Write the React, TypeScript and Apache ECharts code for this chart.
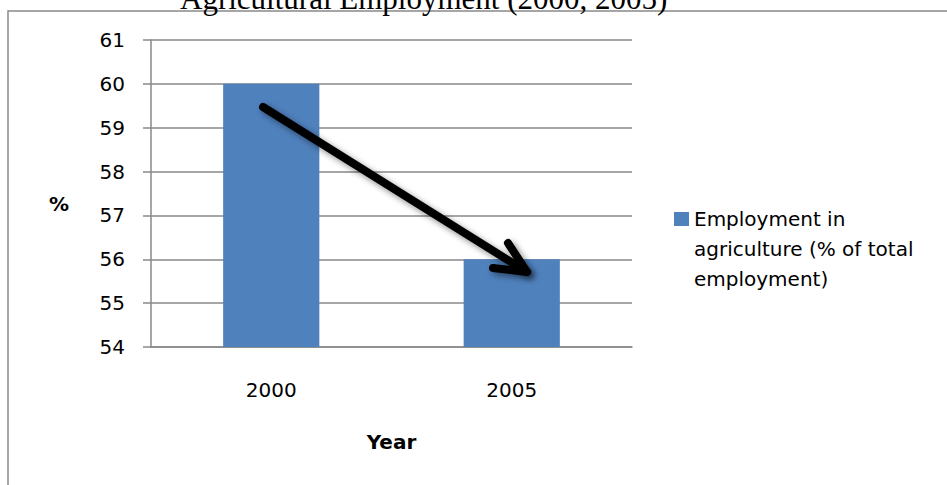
import React, { useEffect, useRef } from 'react';
import * as echarts from 'echarts';

const categories = ['2000', '2005'];
const employmentValues = [60, 56];
const yMin = 54;
const yMax = 61;
const yInterval = 1;
const seriesName = 'Employment in agriculture (% of total employment)';
const legendLines = ['Employment in', 'agriculture (% of total', 'employment)'];
const titleText = 'Agricultural Employment (2000, 2005)';
const xAxisName = 'Year';
const yAxisName = '%';

export default function App() {
  const ref = useRef<HTMLDivElement>(null);
  useEffect(() => {
    const chart = echarts.init(ref.current!, null, { renderer: 'svg' });
    const sans = 'DejaVu Sans';
    const gray = '#898989';
    const shadow = {
      shadowBlur: 6,
      shadowColor: 'rgba(0,0,0,0.45)',
      shadowOffsetX: 3,
      shadowOffsetY: 3,
    };
    chart.setOption({
      animation: false,
      backgroundColor: '#ffffff',
      title: {
        text: titleText,
        left: 180,
        top: -17,
        padding: 0,
        textStyle: {
          fontFamily: 'Liberation Serif',
          fontSize: 31,
          fontWeight: 'normal',
          color: '#000',
        },
      },
      grid: { left: 151, top: 40, right: 315, bottom: 138, containLabel: false },
      legend: {
        data: [seriesName],
        orient: 'vertical',
        left: 674,
        top: 144,
        padding: 0,
        itemWidth: 15,
        itemHeight: 14,
        icon: 'rect',
        selectedMode: false,
        // two blank lines above so the first text line sits level with the swatch
        formatter: () => '\n\n' + legendLines.join('\n'),
        textStyle: {
          fontFamily: sans,
          fontSize: 20,
          lineHeight: 30,
          color: '#000',
        },
      },
      xAxis: {
        type: 'category',
        data: categories,
        axisLine: { show: true, lineStyle: { color: gray, width: 1.5 } },
        axisTick: { show: false },
        axisLabel: { margin: 33, fontSize: 20, fontFamily: sans, color: '#000' },
        name: xAxisName,
        nameLocation: 'middle',
        nameGap: 85,
        nameTextStyle: { fontFamily: sans, fontWeight: 'bold', fontSize: 20, color: '#000' },
      },
      yAxis: {
        type: 'value',
        min: yMin,
        max: yMax,
        interval: yInterval,
        axisLine: { show: true, lineStyle: { color: gray, width: 1.5 } },
        axisTick: { show: true, length: 8, lineStyle: { color: gray, width: 1.5 } },
        splitLine: { show: true, lineStyle: { color: gray, width: 1.5 } },
        axisLabel: { margin: 26, fontSize: 20, fontFamily: sans, color: '#000' },
        name: yAxisName,
        nameLocation: 'middle',
        nameRotate: 0,
        nameGap: 82,
        nameTextStyle: {
          fontFamily: sans,
          fontWeight: 'bold',
          fontSize: 20,
          color: '#000',
          verticalAlign: 'top',
        },
      },
      series: [
        {
          type: 'bar',
          name: seriesName,
          data: employmentValues,
          barWidth: '40%',
          itemStyle: { color: '#4F81BD' },
        },
      ],
      graphic: [
        {
          type: 'rect',
          silent: true,
          z: -10,
          shape: { x: 8, y: 11, width: 1200, height: 1000 },
          style: { fill: 'none', stroke: gray, lineWidth: 1.5 },
        },
        {
          type: 'line',
          silent: true,
          z: 100,
          shape: { x1: 263, y1: 107, x2: 527, y2: 272 },
          style: { stroke: '#000', lineWidth: 8, lineCap: 'round', ...shadow },
        },
        {
          type: 'polyline',
          silent: true,
          z: 100,
          shape: { points: [[508, 243], [527, 272], [493, 268]] },
          style: { stroke: '#000', fill: 'none', lineWidth: 8, lineCap: 'round', lineJoin: 'round', ...shadow },
        },
      ],
    });
    return () => chart.dispose();
  }, []);
  return <div ref={ref} style={{ position: 'fixed', left: 0, top: 0, width: 947, height: 485 }} />;
}
